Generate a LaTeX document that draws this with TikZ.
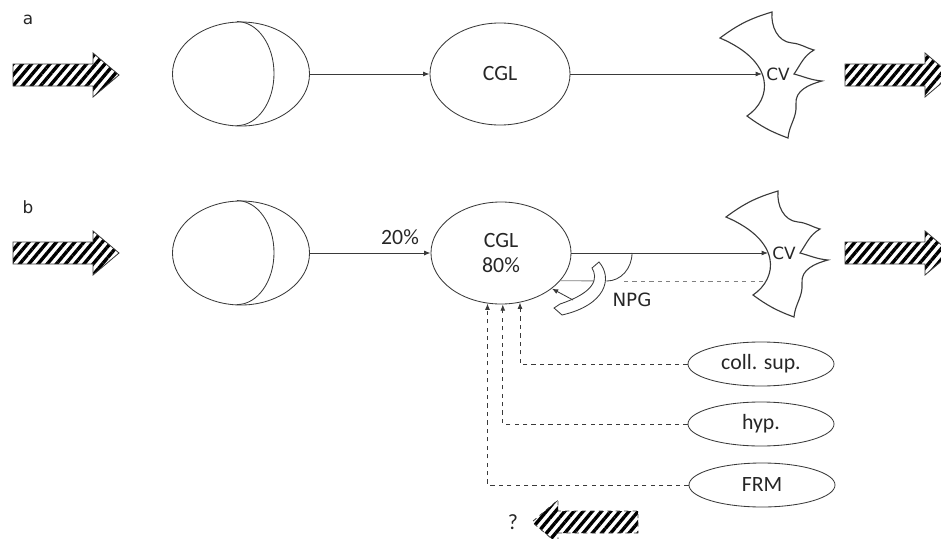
\documentclass[tikz,border=0pt]{standalone}
\usepackage{fontspec}
\setmainfont{Carlito}
\newfontfamily\dejavu{DejaVu Sans}
\usetikzlibrary{arrows.meta,patterns.meta,shapes.geometric}
\definecolor{ink}{HTML}{3A3A3A}

\tikzset{
  hatcharrow/.pic={
    \path[pic actions] (-53,-11) -- (27,-11) -- (27,-22) -- (53,0)
      -- (27,22) -- (27,11) -- (-53,11) -- cycle;},
  cvshape/.pic={
    \draw[ink,line width=0.8pt] (-42,-36) to[bend left=10] (10,-62)
      to[out=-95,in=175] (30,-31) to[out=-5,in=165] (52,-24)
      to[out=-150,in=55] (32,0) to[out=-15,in=175] (60,7)
      to[out=-165,in=95] (34,30) to[out=-85,in=85] (26,64)
      to[bend left=8] (-15,42) .. controls (10,25) and (14,-12) .. (-42,-36) -- cycle;
    \coordinate (-tip) at (0,0);
    \coordinate (-low) at (-2,28);}
}

\begin{document}
\begin{tikzpicture}
  [x=0.025cm,y=-0.025cm,line width=0.6pt,>={Latex[length=4.5pt,width=3.5pt]},
   every node/.style={font=\fontsize{15.5}{18}\selectfont,text=black!85},
   side/.style={font=\dejavu\fontsize{12}{14}\selectfont},
   oval/.style={ellipse,draw=ink,inner sep=0pt},
   moon/.style={oval,minimum width=3.425cm,minimum height=2.6cm},
   cell/.style={oval,minimum width=3.5cm,minimum height=2.55cm},
   factor/.style={oval,minimum width=3.65cm,minimum height=1.1cm},
   hatch/.style={pattern={Lines[angle=50,distance=5pt,line width=2.4pt]}}]
  \useasboundingbox (0,0) rectangle (941,539);
  \clip (0,0) rectangle (941,539);

  % row a
  \node[side] (la) at (28,20) {a};
  \pic (ina) [hatch,draw=ink] at (66,75) {hatcharrow};
  \node[moon] (moona) at (241,74) {};
  \node[cell] (cgla) at (500,74) {CGL};
  \pic (cva) at (762,74) {cvshape};
  \node[side] (cvtexta) at (778,74) {CV};
  \pic (outa) [hatch,draw=ink] at (898,75) {hatcharrow};

  % row b
  \node[side] (lb) at (28,207) {b};
  \pic (inb) [hatch,draw=ink] at (66,253) {hatcharrow};
  \node[moon] (moonb) at (241,253) {};
  \node[cell,align=center] (cglb) at (501,253) {CGL\\80\%};
  \pic (cvb) at (768,253) {cvshape};
  \node[side] (cvtextb) at (784,253) {CV};
  \pic (outb) [hatch,draw=ink] at (898,253) {hatcharrow};
  \node (pct) at (400,237) {20\%};
  \node[side,font=\dejavu\fontsize{13}{15}\selectfont] (npg) at (632,300) {NPG};

  \node[factor] (coll) at (761,364) {coll. sup.};
  \node[factor] (hyp) at (761,424) {hyp.};
  \node[factor] (frm) at (762,485) {FRM};
  \pic (back) [hatch,rotate=180] at (585,522) {hatcharrow};
  \pic (backline) [draw=ink,dashed,rotate=180] at (585,522) {hatcharrow};
  \node (qm) at (513,522) {?};

  % crescents
  \foreach \m in {moona,moonb}
    \draw[ink] ([xshift=-0.1cm]\m.north) arc[start angle=90,end angle=-90,x radius=0.925cm,y radius=1.3cm];

  \foreach \from/\to in {moona/cgla,moonb/cglb,cgla.east/cva-tip,cglb.east/cvb-tip}
    \draw[ink,->] (\from) -- (\to);

  % NPG
  \coordinate (npgbase) at (607,281);
  \coordinate (npgdash) at (624,281);
  \coordinate (npgfoot) at (573,300);
  \draw[gray] (cglb.-25) -- (npgbase);
  \draw[ink] (npgbase) arc[start angle=-90,end angle=0,x radius=0.625cm,y radius=0.7cm];
  \draw[gray,dashed] (npgdash) -- (cvb-low);
  \draw[ink,fill=white] (599,262) .. controls (613,278) and (606,305) .. (562,315)
    -- (554,308) -- (560,304) .. controls (596,292) and (598,278) .. (592,268) -- cycle;
  \draw[ink,->] (npgfoot) -- (cglb.-35);

  \foreach \from/\to in {coll/-69,hyp/-88,frm/-105}
    \draw[ink,dashed,->] (\from.west) -| (cglb.\to);
\end{tikzpicture}
\end{document}
